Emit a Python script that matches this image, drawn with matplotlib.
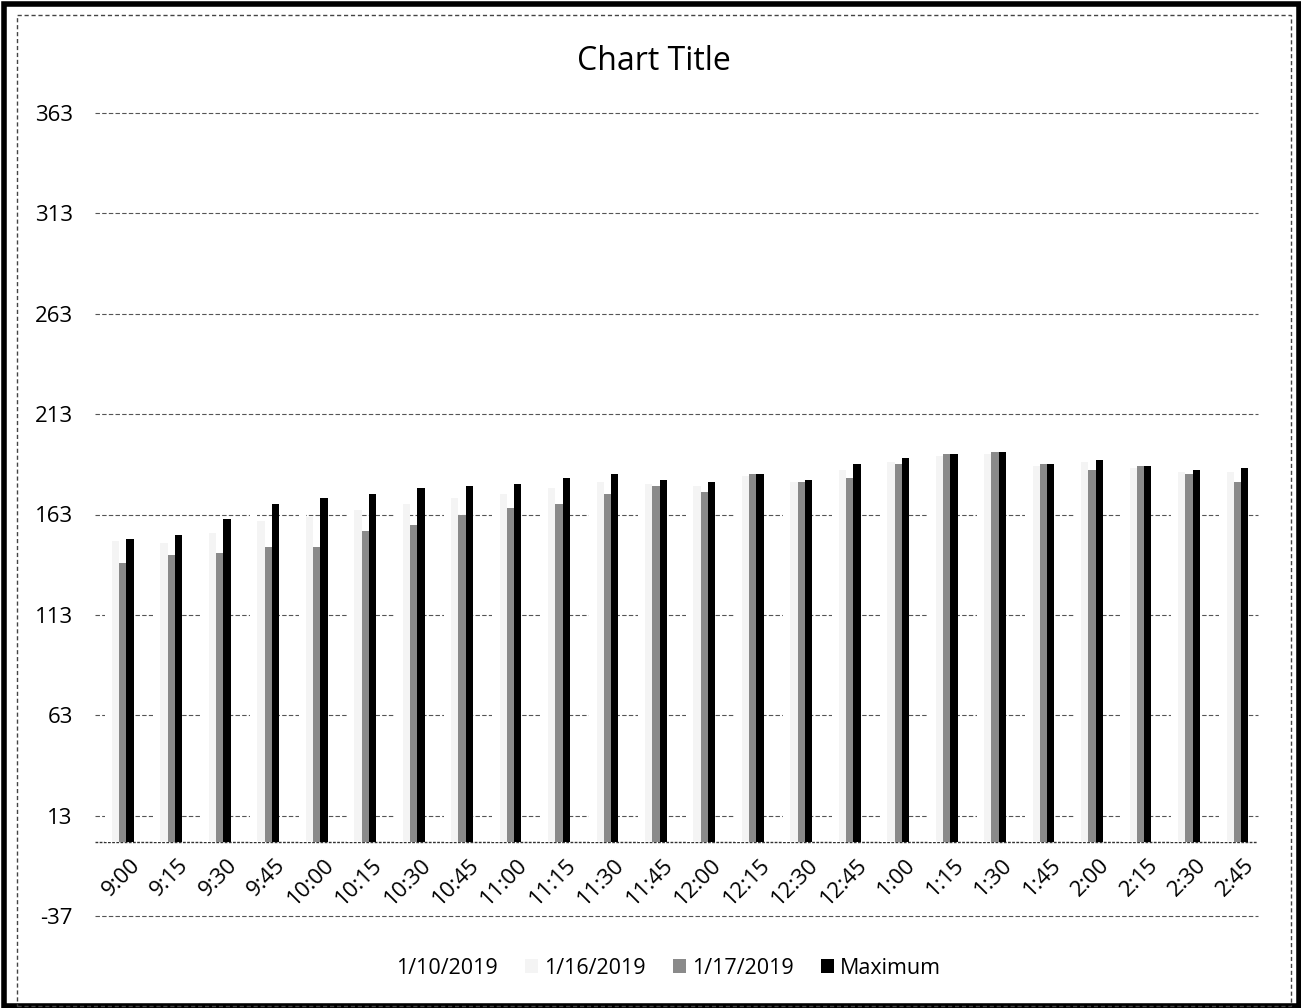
import numpy as np
import matplotlib.pyplot as plt
from matplotlib.patches import Rectangle

plt.rcParams['font.family'] = ['Open Sans', 'DejaVu Sans']
plt.rcParams['axes.unicode_minus'] = False

times = ['9:00', '9:15', '9:30', '9:45', '10:00', '10:15', '10:30', '10:45',
         '11:00', '11:15', '11:30', '11:45', '12:00', '12:15', '12:30', '12:45',
         '1:00', '1:15', '1:30', '1:45', '2:00', '2:15', '2:30', '2:45']

# values (1/10 is drawn white, 1/16 barely visible)
d0110 = [148, 150, 158, 165, 168, 170, 173, 175, 176, 178, 180, 177,
         176, 181, 177, 184, 188, 191, 192, 186, 188, 185, 182, 183]
d0116 = [150, 149, 154, 160, 162, 165, 168, 171, 173, 176, 179, 178,
         177, 182, 179, 185, 189, 192, 193, 187, 189, 186, 184, 184]
d0117 = [139, 143, 144, 147, 147, 155, 158, 163, 166, 168, 173, 177,
         174, 183, 179, 181, 188, 193, 194, 188, 185, 187, 183, 179]
maximum = [151, 153, 161, 168, 171, 173, 176, 177, 178, 181, 183, 180,
           179, 183, 180, 188, 191, 193, 194, 188, 190, 187, 185, 186]

yticks = [-37, 13, 63, 113, 163, 213, 263, 313, 363]

fig = plt.figure(figsize=(13.01, 10.08), dpi=100)
ax = fig.add_axes([95/1301, 1-916/1008, 1163/1301, 803/1008])

x = np.arange(len(times))
w = 0.15
series = [('1/10/2019', d0110, 'white'),
          ('1/16/2019', d0116, '#f4f4f4'),
          ('1/17/2019', d0117, '#8a8a8a'),
          ('Maximum', maximum, 'black')]
for k, (name, vals, col) in enumerate(series):
    ax.bar(x + (k - 1.5) * w, vals, w, color=col, label=name)

ax.set_xlim(-0.5, len(times) - 0.5)
ax.set_ylim(-37, 363)
ax.set_yticks(yticks)
ax.set_xticks([])
for yv in yticks:
    ax.axhline(yv, color='#555555', lw=0.8, ls=(0, (4, 2)), zorder=0, clip_on=False)
ax.axhline(0, color='#333333', lw=1.0, ls=(0, (2, 1)), zorder=0)
for s in ax.spines.values():
    s.set_visible(False)
ax.tick_params(axis='y', length=0, pad=16, labelsize=16)

for i, t in enumerate(times):
    ax.text(i + 0.52, -6.5, t, rotation=45, ha='right', va='top', fontsize=16)

fig.text(654/1301, 1-61/1008, 'Chart Title', ha='center', va='center', fontsize=23)

fig.legend(loc='center', bbox_to_anchor=(659/1301, 1-968/1008), ncol=4,
           frameon=False, fontsize=15.5, handlelength=0.6, handleheight=0.6,
           handletextpad=0.25, columnspacing=1.3)

# scanned frame
fig.patches.append(Rectangle((4/1301, 2/1008), 1295/1301, 1002/1008, transform=fig.transFigure,
                             fill=False, lw=4, ec='black'))
fig.patches.append(Rectangle((17/1301, 2/1008), 1274/1301, 991/1008, transform=fig.transFigure,
                             fill=False, lw=1, ec='#444444', ls=(0, (3, 2))))

fig.savefig('out.png', dpi=100)
